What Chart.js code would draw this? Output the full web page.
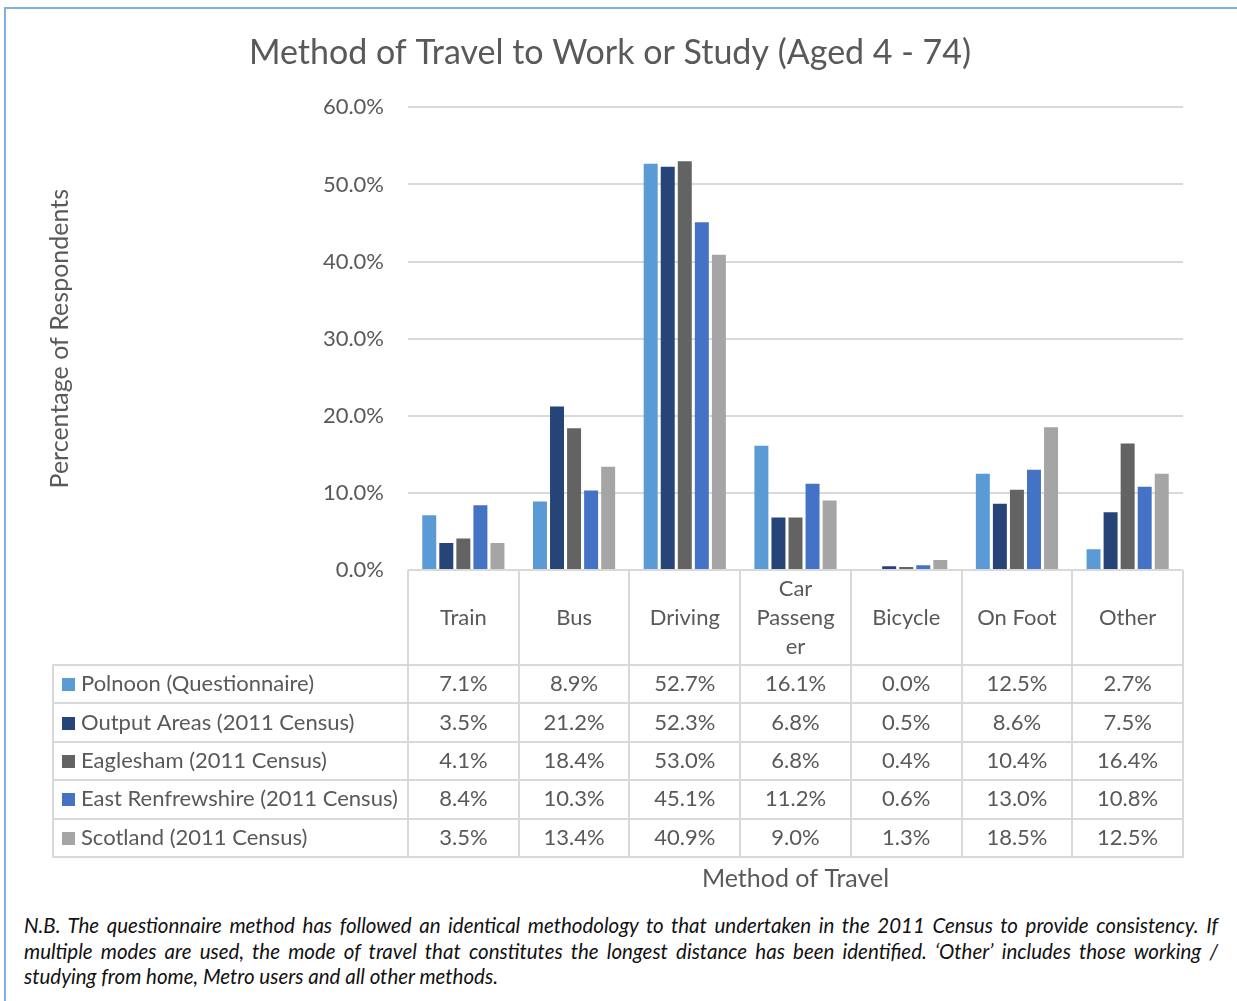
<!DOCTYPE html>
<html>
<head>
<meta charset="utf-8">
<title>Method of Travel to Work or Study</title>
<script src="https://cdn.jsdelivr.net/npm/chart.js@4.4.1/dist/chart.umd.min.js"></script>
<style>
  html, body { margin: 0; padding: 0; background: #ffffff; }
  #page { position: relative; width: 1237px; height: 1001px; overflow: hidden; }
  #frame { position: absolute; left: 4px; top: 7px; width: 1240px; height: 1000px;
           border-top: 2px solid #7fb0e0; border-left: 2px solid #7fb0e0; }
  #chart { position: absolute; left: 0; top: 0; }
  #note { position: absolute; left: 24px; top: 913px; width: 1194px;
          font-family: Lato, "Open Sans", sans-serif; font-style: italic; font-size: 20.5px;
          line-height: 25.5px; color: #111111; }
  #note div { text-align: justify; text-align-last: justify; white-space: nowrap; }
  #note div.last { text-align-last: left; }
</style>
</head>
<body>
<div id="page">
  <div id="frame"></div>
  <canvas id="chart" width="1237" height="900"></canvas>
  <div id="note">
    <div>N.B. The questionnaire method has followed an identical methodology to that undertaken in the 2011 Census to provide consistency. If</div>
    <div>multiple modes are used, the mode of travel that constitutes the longest distance has been identified. ‘Other’ includes those working /</div>
    <div class="last">studying from home, Metro users and all other methods.</div>
  </div>
</div>
<script>
// Categories (multi-line entries are the wrapped header text)
const categories = ['Train', 'Bus', 'Driving', ['Car', 'Passeng', 'er'], 'Bicycle', 'On Foot', 'Other'];

// Percentage of respondents per method of travel
const seriesNames = [
  'Polnoon (Questionnaire)',
  'Output Areas (2011 Census)',
  'Eaglesham (2011 Census)',
  'East Renfrewshire (2011 Census)',
  'Scotland (2011 Census)'
];
const polnoon          = [7.1, 8.9, 52.7, 16.1, 0.0, 12.5, 2.7];
const outputAreas      = [3.5, 21.2, 52.3, 6.8, 0.5, 8.6, 7.5];
const eaglesham        = [4.1, 18.4, 53.0, 6.8, 0.4, 10.4, 16.4];
const eastRenfrewshire = [8.4, 10.3, 45.1, 11.2, 0.6, 13.0, 10.8];
const scotland         = [3.5, 13.4, 40.9, 9.0, 1.3, 18.5, 12.5];

// Y axis ticks (percent)
const yTicks = [0, 10, 20, 30, 40, 50, 60];

const seriesValues = [polnoon, outputAreas, eaglesham, eastRenfrewshire, scotland];
const seriesColors = ['#5B9BD5', '#264478', '#636363', '#4472C4', '#A5A5A5'];

const FONT = 'Lato, "Open Sans", sans-serif';
const TEXT = '#595959';
const LINE = '#d9d9d9';

// Shrink letter spacing of any note line that would overflow its box
document.querySelectorAll('#note div').forEach(line => {
  let ls = 0;
  while (line.scrollWidth > line.clientWidth + 0.5 && ls > -1.5) {
    ls -= 0.05;
    line.style.letterSpacing = ls.toFixed(2) + 'px';
  }
});

// Data table drawn under the plot, aligned with the x scale categories
const dataTable = {
  id: 'dataTable',
  afterDraw(chart, args, opts) {
    const { ctx, chartArea } = chart;
    const x = chart.scales.x;
    const n = chart.data.labels.length;
    const colW = (x.right - x.left) / n;
    const top = chartArea.bottom;
    const headerH = opts.headerHeight;
    const rowH = opts.rowHeight;
    const sets = chart.data.datasets;
    const tableBottom = top + headerH + rowH * sets.length;
    const leftEdge = opts.legendLeft;

    ctx.save();
    ctx.strokeStyle = LINE;
    ctx.lineWidth = 2;
    ctx.beginPath();
    // column separators
    for (let i = 0; i <= n; i++) {
      const cx = Math.round(x.left + colW * i);
      ctx.moveTo(cx, top);
      ctx.lineTo(cx, tableBottom);
    }
    // legend column left edge
    ctx.moveTo(leftEdge, top + headerH);
    ctx.lineTo(leftEdge, tableBottom);
    // row separators
    for (let r = 0; r <= sets.length; r++) {
      const y = Math.round(top + headerH + rowH * r);
      ctx.moveTo(leftEdge - 1, y);
      ctx.lineTo(x.right + 1, y);
    }
    ctx.stroke();

    ctx.fillStyle = TEXT;
    ctx.font = `${opts.fontSize}px ${FONT}`;
    ctx.textBaseline = 'middle';
    ctx.textAlign = 'center';
    // header labels
    chart.data.labels.forEach((lab, i) => {
      const cx = x.getPixelForValue(i);
      const lines = Array.isArray(lab) ? lab : [lab];
      const lh = opts.headerLineHeight;
      const y0 = top + headerH / 2 - (lines.length - 1) * lh / 2;
      lines.forEach((t, k) => ctx.fillText(t, cx, y0 + k * lh));
    });
    // rows
    sets.forEach((ds, r) => {
      const cy = top + headerH + rowH * r + rowH / 2;
      ctx.fillStyle = ds.backgroundColor;
      ctx.fillRect(leftEdge + 9, Math.round(cy - 6), 13, 13);
      ctx.fillStyle = TEXT;
      ctx.textAlign = 'left';
      ctx.fillText(ds.label, leftEdge + 28, cy);
      ctx.textAlign = 'center';
      ds.data.forEach((v, i) => {
        ctx.fillText(v.toFixed(1) + '%', x.getPixelForValue(i), cy);
      });
    });

    // x axis title under the table
    ctx.font = `${opts.axisTitleSize}px ${FONT}`;
    ctx.fillText(opts.axisTitle, (x.left + x.right) / 2, tableBottom + opts.axisTitleGap);
    ctx.restore();
  }
};

new Chart(document.getElementById('chart'), {
  type: 'bar',
  data: {
    labels: categories,
    datasets: seriesNames.map((name, i) => ({
      label: name,
      data: seriesValues[i],
      backgroundColor: seriesColors[i],
      borderWidth: 0,
      categoryPercentage: 0.77,
      barPercentage: 0.82
    }))
  },
  options: {
    responsive: false,
    animation: false,
    layout: { padding: { left: 37, right: 54, top: 0, bottom: 330 } },
    plugins: {
      legend: { display: false },
      tooltip: { enabled: false },
      title: {
        display: true,
        text: 'Method of Travel to Work or Study (Aged 4 - 74)',
        color: TEXT,
        font: { family: FONT, size: 34, weight: 'normal' },
        padding: { top: 33, bottom: 33.6 }
      },
      dataTable: {
        headerHeight: 95,
        rowHeight: 38.4,
        headerLineHeight: 29,
        legendLeft: 53,
        fontSize: 22,
        axisTitle: 'Method of Travel',
        axisTitleSize: 25,
        axisTitleGap: 22
      }
    },
    scales: {
      x: { display: false },
      y: {
        min: yTicks[0],
        max: yTicks[yTicks.length - 1],
        afterBuildTicks(scale) { scale.ticks = yTicks.map(v => ({ value: v })); },
        afterFit(scale) { scale.width = 371; },
        ticks: {
          callback: v => v.toFixed(1) + '%',
          color: TEXT,
          font: { family: FONT, size: 22 },
          padding: 24
        },
        grid: { color: LINE, lineWidth: 2, drawTicks: false },
        border: { display: false },
        title: {
          display: true,
          text: 'Percentage of Respondents',
          color: TEXT,
          font: { family: FONT, size: 25 },
          padding: { top: 8 }
        }
      }
    }
  },
  plugins: [dataTable]
});
</script>
</body>
</html>
